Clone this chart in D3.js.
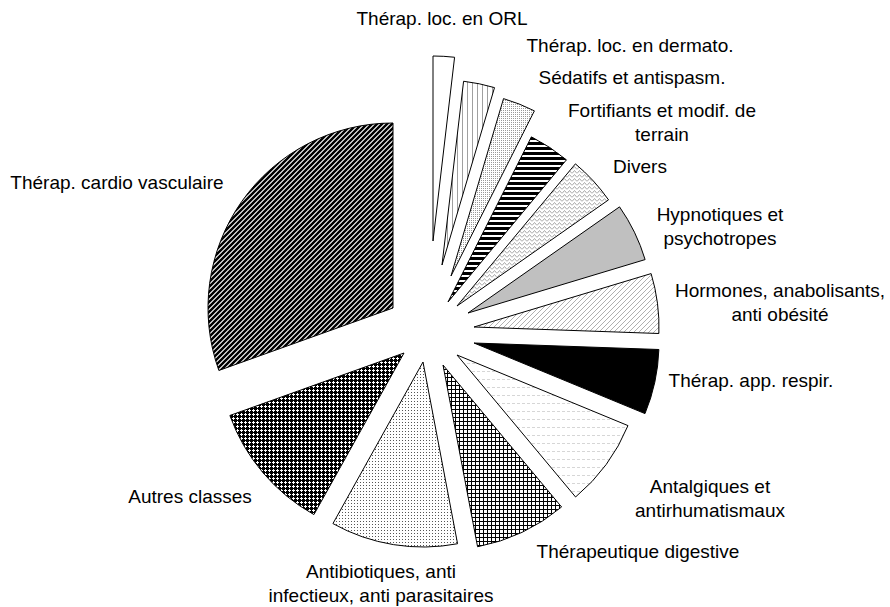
<!DOCTYPE html>
<html>
<head>
<meta charset="utf-8">
<script src="https://cdn.jsdelivr.net/npm/d3@7"></script>
<style>
  html, body { margin: 0; padding: 0; background: #fff; }
  svg { display: block; }
  text { font-family: "Liberation Sans", Arial, sans-serif; font-size: 19px; fill: #000; }
</style>
</head>
<body>
<svg id="chart" width="890" height="607"></svg>
<script>
// ---- data (shares, %) ----
const categories = [
  "Thérap. loc. en ORL",
  "Thérap. loc. en dermato.",
  "Sédatifs et antispasm.",
  "Fortifiants et modif. de terrain",
  "Divers",
  "Hypnotiques et psychotropes",
  "Hormones, anabolisants, anti obésité",
  "Thérap. app. respir.",
  "Antalgiques et antirhumatismaux",
  "Thérapeutique digestive",
  "Antibiotiques, anti infectieux, anti parasitaires",
  "Autres classes",
  "Thérap. cardio vasculaire"
];
const values = [1.86, 2.72, 2.86, 3.61, 4.22, 5.06, 5.22, 5.67, 7.69, 8.08, 11.08, 11.42, 30.47];

// label lines (wrapped text as in the reference)
const labelLines = [
  ["Thérap. loc. en ORL"],
  ["Thérap. loc. en dermato."],
  ["Sédatifs et antispasm."],
  ["Fortifiants et modif. de", "terrain"],
  ["Divers"],
  ["Hypnotiques et", "psychotropes"],
  ["Hormones, anabolisants,", "anti obésité"],
  ["Thérap. app. respir."],
  ["Antalgiques et", "antirhumatismaux"],
  ["Thérapeutique digestive"],
  ["Antibiotiques, anti", "infectieux, anti parasitaires"],
  ["Autres classes"],
  ["Thérap. cardio vasculaire"]
];

// ---- layout / style (not data) ----
const center = [428, 333];
const radius = 185;
const explode = [92, 69.6, 61.3, 37.3, 39.8, 44.9, 46.4, 46.6, 36.4, 35.3, 29.3, 31.1, 43];
const labelPos = [
  [442, 18], [630, 45], [632, 77], [662, 110], [640, 166], [720, 214],
  [780, 290], [751, 380], [710, 486], [638, 551], [381, 571], [190, 496], [117, 182]
];
const fills = ["#fff", "url(#pVert)", "url(#pDots)", "url(#pHoriz)", "url(#pZig)", "#c0c0c0",
  "url(#pDiagGray)", "#000", "url(#pDash)", "url(#pGrid)", "url(#pSparse)", "url(#pPlus)", "url(#pDiagBlack)"];

const svg = d3.select("#chart");
const defs = svg.append("defs");

function pattern(id, w, h, build) {
  const p = defs.append("pattern").attr("id", id).attr("patternUnits", "userSpaceOnUse")
    .attr("width", w).attr("height", h);
  build(p);
}
pattern("pVert", 5, 5, p => {
  p.append("rect").attr("width", 5).attr("height", 5).attr("fill", "#fff");
  p.append("rect").attr("x", 0).attr("width", 1).attr("height", 5).attr("fill", "#a0a0a0");
});
pattern("pDots", 2, 2, p => {
  p.append("rect").attr("width", 2).attr("height", 2).attr("fill", "#fff");
  p.append("rect").attr("width", 1).attr("height", 1).attr("fill", "#999");
});
pattern("pHoriz", 5, 5, p => {
  p.append("rect").attr("width", 5).attr("height", 5).attr("fill", "#fff");
  p.append("rect").attr("width", 5).attr("height", 3).attr("fill", "#000");
});
pattern("pZig", 5, 4, p => {
  p.append("rect").attr("width", 5).attr("height", 4).attr("fill", "#fff");
  p.append("path").attr("d", "M0,3.5 L2.5,0.5 L5,3.5").attr("fill", "none").attr("stroke", "#a8a8a8").attr("stroke-width", 1);
});
pattern("pDiagGray", 5, 5, p => {
  p.append("rect").attr("width", 5).attr("height", 5).attr("fill", "#fff");
  p.append("path").attr("d", "M-1,6 L6,-1").attr("stroke", "#b0b0b0").attr("stroke-width", 1);
});
pattern("pDash", 5, 8, p => {
  p.append("rect").attr("width", 5).attr("height", 8).attr("fill", "#fff");
  p.append("rect").attr("width", 3).attr("height", 1).attr("fill", "#d6d6d6");
});
pattern("pGrid", 4, 4, p => {
  p.append("rect").attr("width", 4).attr("height", 4).attr("fill", "#fff");
  p.append("rect").attr("width", 1).attr("height", 4).attr("fill", "#000");
  p.append("rect").attr("width", 4).attr("height", 1).attr("fill", "#000");
});
pattern("pSparse", 3, 3, p => {
  p.append("rect").attr("width", 3).attr("height", 3).attr("fill", "#fff");
  p.append("rect").attr("width", 1).attr("height", 1).attr("fill", "#555");
});
pattern("pPlus", 4, 4, p => {
  p.append("rect").attr("width", 4).attr("height", 4).attr("fill", "#000");
  p.append("rect").attr("x", 1).attr("y", 0).attr("width", 1).attr("height", 3).attr("fill", "#fff");
  p.append("rect").attr("x", 0).attr("y", 1).attr("width", 3).attr("height", 1).attr("fill", "#fff");
});
pattern("pDiagBlack", 5, 5, p => {
  p.append("rect").attr("width", 5).attr("height", 5).attr("fill", "#fff");
  p.append("path").attr("d", "M-1,6 L6,-1 M-1,1 L1,-1 M4,6 L6,4").attr("stroke", "#000").attr("stroke-width", 2.4);
});

const pie = d3.pie().sort(null).value(d => d).startAngle(0).endAngle(2 * Math.PI);
const arc = d3.arc().innerRadius(0).outerRadius(radius);
const arcs = pie(values);

const g = svg.append("g");
g.selectAll("path.slice")
  .data(arcs)
  .join("path")
  .attr("class", "slice")
  .attr("transform", (d, i) => {
    const b = (d.startAngle + d.endAngle) / 2;
    const x = Math.round(center[0] + explode[i] * Math.sin(b));
    const y = Math.round(center[1] - explode[i] * Math.cos(b));
    return `translate(${x},${y})`;
  })
  .attr("d", arc)
  .attr("fill", (d, i) => fills[i])
  .attr("stroke", "#000")
  .attr("stroke-width", 1)
  .attr("stroke-linejoin", "miter");

const labels = svg.append("g").selectAll("text")
  .data(categories)
  .join("text")
  .attr("text-anchor", "middle")
  .attr("x", (d, i) => labelPos[i][0])
  .attr("y", (d, i) => labelPos[i][1]);
labels.each(function (d, i) {
  const t = d3.select(this);
  labelLines[i].forEach((line, k) => {
    t.append("tspan").attr("x", labelPos[i][0]).attr("dy", k === 0 ? "0.35em" : "1.3em").text(line);
  });
});
</script>
</body>
</html>
